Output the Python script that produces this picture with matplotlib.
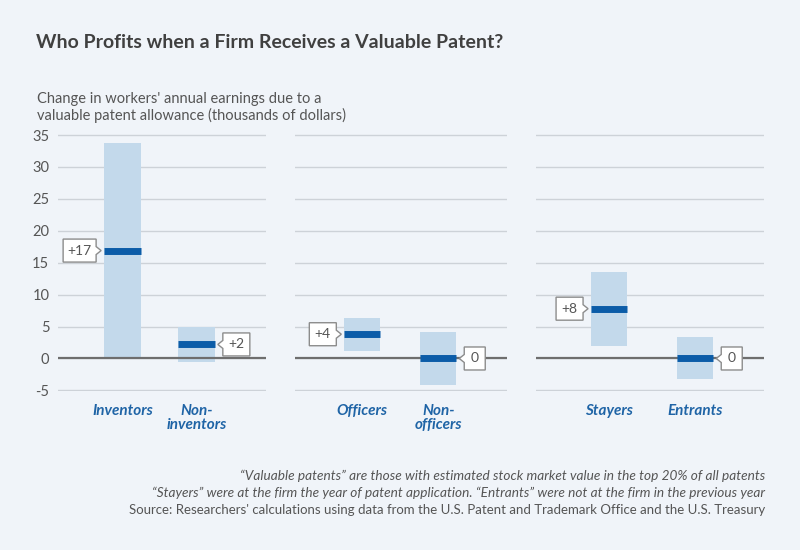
import numpy as np
import matplotlib.pyplot as plt
from matplotlib.patches import Polygon
from matplotlib.transforms import Affine2D, ScaledTranslation

plt.rcParams['font.family'] = ['Lato', 'DejaVu Sans']

# data (thousands of dollars)
groups = [["Inventors", "Non-\ninventors"],
          ["Officers", "Non-\nofficers"],
          ["Stayers", "Entrants"]]
estimates = [[16.9, 2.2], [3.8, 0.0], [7.8, 0.0]]
ci_low = [[0.0, -0.5], [1.2, -4.2], [1.9, -3.2]]
ci_high = [[33.8, 5.0], [6.4, 4.1], [13.6, 3.3]]
value_labels = [["+17", "+2"], ["+4", "0"], ["+8", "0"]]
y_ticks = [-5, 0, 5, 10, 15, 20, 25, 30, 35]

bg = '#f0f4f9'
light = '#c3d9eb'
dark = '#0b5ca8'
grid_c = '#cdd2d8'
text_c = '#555555'

fig = plt.figure(figsize=(8, 5.5), dpi=100, facecolor=bg)

# panel layout (figure fractions) and x ranges
panel_pos = [[0.0721, 0.289, 0.261, 0.4667],
             [0.369, 0.289, 0.2646, 0.4667],
             [0.670, 0.289, 0.285, 0.4667]]
panel_xlim = [(-0.87, 1.94), (-0.88, 1.90), (-0.85, 1.80)]
panel_w = [0.49, 0.47, 0.42]


def callout(ax, x, y, text, side):
    w = 15 + 6 * len(text)
    h = 23
    gap, d, n = 3, 5, 4
    s = 1 if side == 'right' else -1
    tip = s * gap
    base = s * (gap + d)
    far = s * (gap + d + w)
    verts = [(base, h / 2), (base, n), (tip, 0), (base, -n), (base, -h / 2),
             (far, -h / 2), (far, h / 2)]
    trans = Affine2D().scale(fig.dpi / 100) + ScaledTranslation(x, y, ax.transData)
    ax.add_patch(Polygon(verts, closed=True, transform=trans, facecolor='white',
                         edgecolor='#8c8c8c', lw=1, clip_on=False, zorder=5))
    ax.text((base + far) / 2, 0, text, transform=trans, ha='center', va='center',
            fontsize=10, color=text_c, zorder=6)


for i in range(3):
    ax = fig.add_axes(panel_pos[i])
    ax.set_facecolor(bg)
    xs = np.arange(2)
    w = panel_w[i]
    lo = np.array(ci_low[i])
    hi = np.array(ci_high[i])
    ax.bar(xs, hi - lo, bottom=lo, width=w, color=light, zorder=2)
    ax.hlines(estimates[i], xs - w / 2, xs + w / 2, color=dark, lw=5, zorder=4)
    ax.axhline(0, color='#6e6e6e', lw=1.6, zorder=3)

    ax.set_ylim(-5.1, 35.1)
    ax.set_xlim(*panel_xlim[i])
    ax.set_yticks(y_ticks)
    ax.grid(axis='y', color=grid_c, lw=1, zorder=0)
    for sp in ax.spines.values():
        sp.set_visible(False)
    ax.tick_params(axis='both', length=0)
    ax.set_xticks(xs)
    ax.set_xticklabels(groups[i], fontsize=11, fontstyle='italic',
                       fontweight='bold', color='#1f64a6', linespacing=1.05)
    ax.tick_params(axis='x', pad=9)
    if i == 0:
        ax.set_yticklabels([str(t) for t in y_ticks], fontsize=10.5, color=text_c)
        ax.tick_params(axis='y', pad=6)
    else:
        ax.set_yticklabels([])

    callout(ax, xs[0] - w / 2, estimates[i][0], value_labels[i][0], 'left')
    callout(ax, xs[1] + w / 2, estimates[i][1], value_labels[i][1], 'right')

fig.text(36 / 800, 1 - 43 / 550, "Who Profits when a Firm Receives a Valuable Patent?",
         fontsize=14, fontweight='bold', color='#404040', va='center')
fig.text(37 / 800, 1 - 92 / 550,
         "Change in workers' annual earnings due to a\nvaluable patent allowance (thousands of dollars)",
         fontsize=10.5, color=text_c, va='top', linespacing=1.15)

notes = ["“Valuable patents” are those with estimated stock market value in the top 20% of all patents",
         "“Stayers” were at the firm the year of patent application. “Entrants” were not at the firm in the previous year"]
fig.text(765 / 800, 1 - 476 / 550, notes[0], ha='right', va='center', fontsize=9.8,
         fontstyle='italic', color=text_c)
fig.text(765 / 800, 1 - 493 / 550, notes[1], ha='right', va='center', fontsize=9.8,
         fontstyle='italic', color=text_c)
fig.text(765 / 800, 1 - 510 / 550,
         "Source: Researchers' calculations using data from the U.S. Patent and Trademark Office and the U.S. Treasury",
         ha='right', va='center', fontsize=9.5, color=text_c)

fig.savefig('out.png', dpi=100, facecolor=bg)
